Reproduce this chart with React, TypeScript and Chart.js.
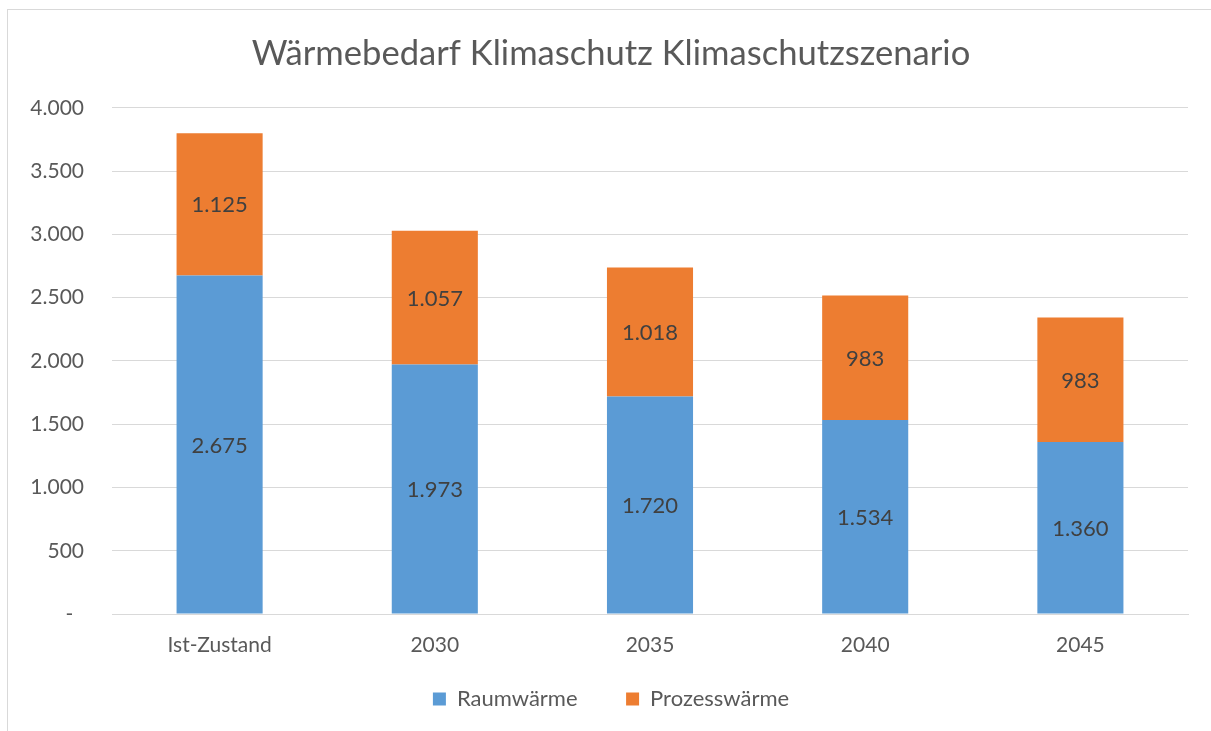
import React, { useEffect, useRef } from "react";
import { Chart, registerables } from "chart.js";

Chart.register(...registerables);

const categories = ["Ist-Zustand", "2030", "2035", "2040", "2045"];
const raumwaerme = [2675, 1973, 1720, 1534, 1360];
const prozesswaerme = [1125, 1057, 1018, 983, 983];
const yTicks = [0, 500, 1000, 1500, 2000, 2500, 3000, 3500, 4000];
const titleText = "Wärmebedarf Klimaschutz Klimaschutzszenario";

const FONT = "Lato, 'Open Sans', sans-serif";
const fmt = (v: number) => String(v).replace(/\B(?=(\d{3})+(?!\d))/g, ".");

const dataLabels = {
  id: "dataLabels",
  afterDatasetsDraw(chart: any) {
    const ctx = chart.ctx;
    ctx.save();
    ctx.font = `22px ${FONT}`;
    ctx.fillStyle = "#404040";
    ctx.textAlign = "center";
    ctx.textBaseline = "middle";
    chart.data.datasets.forEach((ds: any, di: number) => {
      const meta = chart.getDatasetMeta(di);
      meta.data.forEach((el: any, i: number) => {
        const y = (el.y + el.base) / 2 + 1;
        ctx.fillText(fmt(ds.data[i]), el.x, y);
      });
    });
    ctx.restore();
  },
};

export default function App() {
  const ref = useRef<HTMLCanvasElement>(null);
  useEffect(() => {
    const chart = new Chart(ref.current!, {
      type: "bar",
      data: {
        labels: categories,
        datasets: [
          { label: "Raumwärme", data: raumwaerme, backgroundColor: "#5B9BD5", barPercentage: 0.4, categoryPercentage: 1 },
          { label: "Prozesswärme", data: prozesswaerme, backgroundColor: "#ED7D31", barPercentage: 0.4, categoryPercentage: 1 },
        ],
      },
      options: {
        animation: false,
        responsive: false,
        layout: { padding: { top: 0, right: 0, bottom: 11, left: 11 } },
        plugins: {
          title: {
            display: true,
            text: titleText,
            color: "#595959",
            font: { family: FONT, size: 34.6, weight: "normal" as any, lineHeight: 1.2 },
            padding: { top: 33.5, bottom: 32.9 },
          },
          legend: {
            position: "bottom",
            labels: {
              color: "#595959",
              font: { family: FONT, size: 22 },
              boxWidth: 13,
              boxHeight: 13,
              padding: 26,
              generateLabels: (chart: any) => {
                const items = (Chart as any).defaults.plugins.legend.labels.generateLabels(chart);
                return items.map((it: any, i: number) => (i === 0 ? { ...it, text: it.text + "    " } : it));
              },
            },
          },
          tooltip: { enabled: false },
        },
        scales: {
          x: {
            stacked: true,
            grid: { display: false, drawTicks: false },
            border: { display: true, color: "#d9d9d9", width: 1 },
            ticks: { color: "#595959", font: { family: FONT, size: 21 }, padding: 19 },
            afterFit: (s: any) => { s.height = 48; },
          },
          y: {
            stacked: true,
            min: 0,
            max: 4000,
            afterBuildTicks: (s: any) => { s.ticks = yTicks.map((v) => ({ value: v })); },
            grid: { color: "#d9d9d9", lineWidth: 1, drawTicks: false },
            border: { display: false },
            ticks: {
              color: "#595959",
              font: { family: FONT, size: 21 },
              padding: 28,
              callback: (v: any) => (Number(v) === 0 ? "-  " : fmt(Number(v))),
            },
            afterFit: (s: any) => { s.width = 101; },
          },
          yRight: {
            position: "right",
            display: true,
            min: 0,
            max: 4000,
            grid: { display: false, drawTicks: false },
            border: { display: false },
            ticks: { display: false },
            afterFit: (s: any) => { s.width = 23; },
          },
        },
      },
      plugins: [dataLabels],
    });
    return () => chart.destroy();
  }, []);
  return (
    <div style={{ position: "fixed", left: 0, top: 0, width: 1211, height: 731, overflow: "hidden", background: "#fff" }}>
      <canvas ref={ref} width={1211} height={731} style={{ position: "absolute", left: 0, top: 0, width: 1211, height: 731 }} />
      <div style={{ position: "absolute", left: 7, top: 9, width: 1300, height: 800, border: "1px solid #d9d9d9", pointerEvents: "none" }} />
    </div>
  );
}
